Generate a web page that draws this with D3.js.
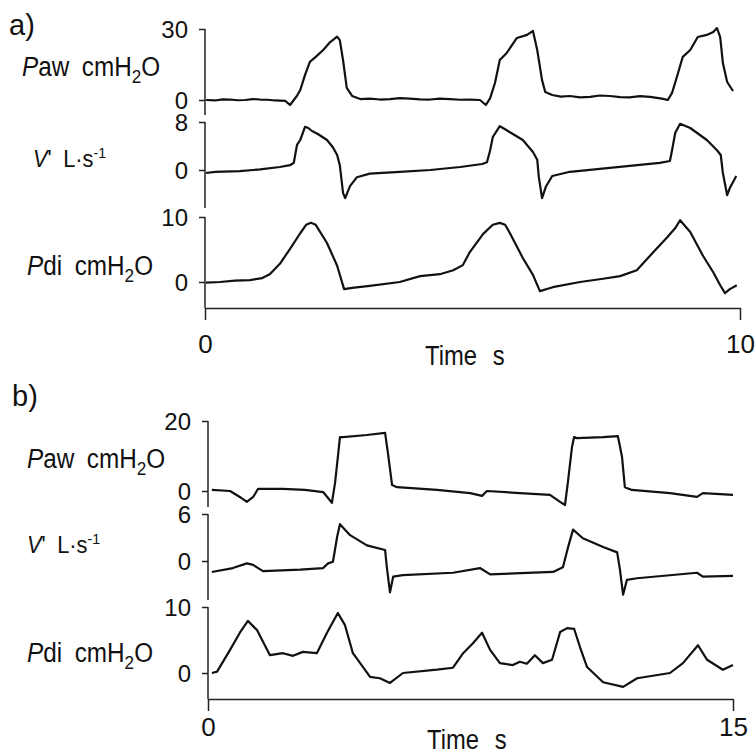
<!DOCTYPE html>
<html>
<head>
<meta charset="utf-8">
<script src="https://cdn.jsdelivr.net/npm/d3@7"></script>
<style>
  body { margin: 0; background: #fff; }
  text { font-family: "Liberation Sans", Arial, sans-serif; fill: #111; }
</style>
</head>
<body>
<div class="chart"></div>
<script>
// ---- data: [time s, value] ----
// panel a (0-10 s)
const pawA = [[0.02,0],[0.19,-0.2],[0.33,0.3],[0.47,0.2],[0.61,-0.1],[0.75,0],[0.89,0.4],[1.03,0.2],[1.17,0.1],[1.31,-0.2],[1.5,-0.4],[1.59,-2.1],[1.66,0],[1.72,1.8],[1.78,4.2],[1.87,10.6],[1.96,16.1],[2.07,18.2],[2.21,21.1],[2.34,24.5],[2.47,26.8],[2.52,25.3],[2.58,16.9],[2.65,5.1],[2.75,1.7],[2.9,0.4],[3.08,0.6],[3.27,0.2],[3.46,0.4],[3.64,0.8],[3.83,0.6],[4.02,0.3],[4.21,0.2],[4.39,0.6],[4.58,0.4],[4.77,0.1],[4.95,0.2],[5.14,0],[5.25,-2.1],[5.33,0.8],[5.42,7.2],[5.51,16.9],[5.64,19.9],[5.83,26.2],[6.02,27.5],[6.13,29.2],[6.21,21.1],[6.3,8.4],[6.36,3.4],[6.49,2.1],[6.65,1.4],[6.82,1.7],[7.01,1.1],[7.2,1.3],[7.38,1.9],[7.57,1.7],[7.76,1.2],[7.94,1.1],[8.13,1.6],[8.32,1.3],[8.54,0.6],[8.65,0],[8.73,3.0],[8.82,9.7],[8.93,18.2],[9.07,21.1],[9.21,26.6],[9.38,27.5],[9.5,28.7],[9.57,30.4],[9.63,26.6],[9.68,15.6],[9.76,7.6],[9.87,3.8]];
const flowA = [[0.02,-0.5],[0.19,-0.3],[0.65,-0.2],[1.03,0.1],[1.4,0.5],[1.59,0.8],[1.66,1.2],[1.72,4.2],[1.78,5.0],[1.87,7.2],[1.93,7.0],[2.0,6.5],[2.11,6.0],[2.28,5.0],[2.39,3.8],[2.47,2.5],[2.52,0.8],[2.58,-3.8],[2.62,-4.7],[2.71,-2.7],[2.84,-1.2],[3.08,-0.6],[3.64,-0.3],[4.21,0],[4.77,0.5],[5.18,1.0],[5.27,1.3],[5.33,3.3],[5.38,5.5],[5.51,7.3],[5.61,6.8],[5.7,6.3],[5.94,5.0],[6.13,3.0],[6.21,1.7],[6.24,-1.2],[6.3,-4.7],[6.37,-2.8],[6.49,-1.0],[6.82,-0.3],[7.38,0.2],[7.94,0.7],[8.5,1.2],[8.69,1.5],[8.73,3.3],[8.79,6.2],[8.88,7.7],[9.07,7.0],[9.38,5.0],[9.57,3.3],[9.64,2.5],[9.68,-0.5],[9.76,-4.2],[9.81,-3.0],[9.93,-1.0]];
const pdiA = [[0.02,-0.1],[0.28,0],[0.56,0.2],[0.84,0.3],[1.07,0.6],[1.21,1.2],[1.4,2.8],[1.59,5.1],[1.78,7.5],[1.89,8.8],[1.98,9.1],[2.07,8.8],[2.28,6.0],[2.47,2.5],[2.6,-1.1],[2.75,-0.9],[3.08,-0.6],[3.64,0],[4.02,0.9],[4.39,1.2],[4.64,1.8],[4.82,2.6],[4.95,4.6],[5.2,7.4],[5.38,8.8],[5.51,9.1],[5.61,8.8],[5.7,7.5],[5.94,3.7],[6.13,1.1],[6.26,-1.4],[6.5,-0.8],[7.01,0],[7.44,0.5],[7.76,0.9],[8.07,1.8],[8.37,4.5],[8.64,6.9],[8.79,8.3],[8.88,9.5],[9.07,7.7],[9.31,4.0],[9.5,1.5],[9.63,-0.5],[9.72,-1.7],[9.81,-1.1],[9.94,-0.5]];

// panel b (0-15 s)
const pawB = [[0.11,0.3],[0.63,0],[0.91,-1.7],[1.11,-3.1],[1.29,-1.7],[1.43,0.6],[2.14,0.6],[2.77,0.3],[3.29,-0.3],[3.43,-2.0],[3.54,-3.4],[3.63,2.3],[3.71,9.7],[3.77,15.4],[3.86,15.4],[4.54,16.0],[5.06,16.6],[5.14,10.9],[5.26,1.7],[5.4,1.1],[6.54,0.3],[7.49,-0.6],[7.83,-1.4],[7.97,0],[8.91,-0.6],[9.77,-1.1],[10.06,-3.1],[10.2,-4.0],[10.29,3.1],[10.4,12.6],[10.46,15.4],[10.54,15.1],[11.29,15.4],[11.71,15.7],[11.83,9.7],[11.91,1.1],[12.11,0.3],[13.2,-0.6],[13.97,-1.7],[14.14,-0.6],[15.0,-1.1]];
const flowB = [[0.11,-1.4],[0.71,-0.9],[1.11,-0.3],[1.29,-0.5],[1.57,-1.3],[2.63,-1.1],[3.29,-0.9],[3.43,-0.3],[3.57,-0.1],[3.69,3.1],[3.77,4.7],[4.06,3.3],[4.54,2.0],[5.06,1.4],[5.11,-0.8],[5.2,-4.0],[5.29,-2.0],[5.57,-1.8],[7.0,-1.5],[7.77,-0.9],[8.06,-1.7],[9.86,-1.4],[10.14,-0.8],[10.29,1.8],[10.43,4.0],[10.71,2.9],[11.29,1.8],[11.69,1.1],[11.77,-1.1],[11.86,-4.3],[11.97,-2.4],[12.26,-2.2],[13.97,-1.5],[14.14,-2.0],[15.0,-1.9]];
const pdiB = [[0.11,0],[0.26,0.2],[0.63,3.5],[0.91,6.1],[1.14,7.9],[1.4,6.5],[1.77,2.7],[2.14,3.0],[2.43,2.6],[2.71,3.2],[3.11,3.0],[3.4,6.1],[3.71,9.1],[3.91,7.3],[4.14,3.0],[4.43,0.9],[4.63,-0.6],[4.91,-0.8],[5.2,-1.5],[5.57,0],[6.54,0.5],[7.0,0.8],[7.29,3.0],[7.57,4.5],[7.83,6.1],[8.06,3.5],[8.34,1.5],[8.71,1.2],[8.91,1.7],[9.11,1.4],[9.34,2.7],[9.57,1.5],[9.83,2.0],[10.06,6.2],[10.26,6.8],[10.46,6.7],[10.63,3.9],[10.83,0.9],[11.29,-1.4],[11.86,-2.1],[12.26,-0.8],[13.2,0],[13.57,1.5],[14.0,4.2],[14.26,2.0],[14.71,0.5],[15.0,1.2]];

// axis tick values
const ticksA = [30, 8, 10];
const ticksB = [20, 6, 10];
const timeMaxA = 10, timeMaxB = 15;

// ---- svg ----
const width = 755, height = 754;
const svg = d3.select('.chart').append('svg')
  .attr('width', width)
  .attr('height', height);

const ink = '#111';

//labels built from pieces (italic P, subscripts...)
function label(x, y, size, sx, parts) {
  const t = svg.append('text')
    .attr('transform', `translate(${x},${y}) scale(${sx},1)`)
    .attr('font-size', size);
  parts.forEach(p => {
    const s = t.append('tspan').text(p.t);
    if (p.i) s.attr('font-style', 'italic');
    if (p.dx) s.attr('dx', p.dx);
    if (p.dy) s.attr('dy', p.dy);
    if (p.fs) s.attr('font-size', p.fs);
  });
}

function drawPanel(p) {
  const x = d3.scaleLinear().domain([0, p.tMax]).range([p.left, p.right]);

  p.rows.forEach(r => {
    const y = d3.scaleLinear().domain([0, r.top]).range([r.zero, r.topPx]);

    // vertical axis piece
    svg.append('line')
      .attr('x1', p.left).attr('x2', p.left)
      .attr('y1', y(r.top)).attr('y2', r.bottom)
      .attr('stroke', '#222').attr('stroke-width', 1.5);

    const ax = svg.append('g')
      .attr('transform', `translate(${p.left},0)`)
      .call(d3.axisLeft(y).tickValues([0, r.top]).tickFormat(d3.format('d')).tickSize(6).tickPadding(11));
    ax.select('.domain').remove();
    ax.selectAll('line').attr('stroke', '#222').attr('stroke-width', 1.5);
    ax.selectAll('text')
      .attr('font-size', 24)
      .attr('font-family', '"Liberation Sans", Arial, sans-serif')
      .attr('fill', ink)
      .attr('dy', '0.36em');

    svg.append('path')
      .datum(r.data)
      .attr('fill', 'none')
      .attr('stroke', ink)
      .attr('stroke-width', 2.2)
      .attr('stroke-linejoin', 'round')
      .attr('d', d3.line().x(d => x(d[0])).y(d => y(d[1])));
  });

  // time axis
  const xa = svg.append('g')
    .attr('transform', `translate(0,${p.axisY})`)
    .call(d3.axisBottom(x).tickValues([0, p.tMax]).tickSize(12).tickSizeOuter(0).tickPadding(p.pad));
  xa.selectAll('path,line').attr('stroke', '#222').attr('stroke-width', 1.5);
  xa.selectAll('text')
    .attr('font-size', 26)
    .attr('font-family', '"Liberation Sans", Arial, sans-serif')
    .attr('fill', ink);

  label(p.timeX, p.timeY, 27, 0.88, [{t: 'Time'}, {t: 's', dx: 18}]);
}

drawPanel({
  tMax: timeMaxA, left: 205, right: 740, axisY: 308, pad: 15,
  timeX: 425, timeY: 365,
  rows: [
    {data: pawA, top: ticksA[0], zero: 100, topPx: 29, bottom: 115},
    {data: flowA, top: ticksA[1], zero: 170, topPx: 122, bottom: 208},
    {data: pdiA, top: ticksA[2], zero: 282, topPx: 217, bottom: 308}
  ]
});

drawPanel({
  tMax: timeMaxB, left: 208, right: 733, axisY: 699, pad: 7,
  timeX: 427, timeY: 749,
  rows: [
    {data: pawB, top: ticksB[0], zero: 491, topPx: 421, bottom: 507},
    {data: flowB, top: ticksB[1], zero: 561, topPx: 514, bottom: 600},
    {data: pdiB, top: ticksB[2], zero: 673, topPx: 607, bottom: 699}
  ]
});

// panel letters
label(9, 35, 29, 1, [{t: 'a)'}]);
label(12, 406, 29, 1, [{t: 'b)'}]);

// trace names
const pawParts = [{t: 'P', i: true}, {t: 'aw'}, {t: 'cmH', dx: 14}, {t: '2', fs: 19, dy: 7}, {t: 'O', dy: -7}];
const flowParts = [{t: 'V', i: true}, {t: "'"}, {t: 'L·s', dx: 12}, {t: '-1', fs: 15, dy: -9}];
const pdiParts = [{t: 'P', i: true}, {t: 'di'}, {t: 'cmH', dx: 14}, {t: '2', fs: 19, dy: 7}, {t: 'O', dy: -7}];

label(22, 76, 27, 0.9, pawParts);
label(33, 167, 23, 0.95, flowParts);
label(27, 275, 27, 0.9, pdiParts);

label(27, 468, 27, 0.9, pawParts);
label(27, 553, 23, 0.95, flowParts);
label(27, 662, 27, 0.9, pdiParts);
</script>
</body>
</html>
